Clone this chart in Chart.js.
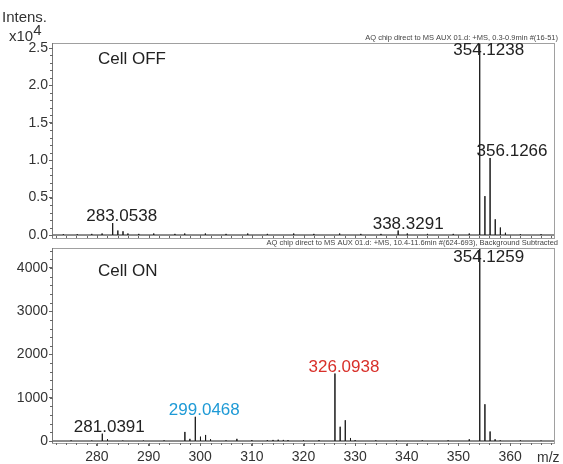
<!DOCTYPE html>
<html><head><meta charset="utf-8">
<script src="https://cdn.jsdelivr.net/npm/chart.js@4"></script>
<style>
html,body{margin:0;padding:0;background:#fff;overflow:hidden}
#wrap{position:relative;width:563px;height:464px}
canvas{position:absolute;left:0}
#c1{top:0}
#c2{top:240px}
</style></head><body>
<div id="wrap">
<canvas id="c1" width="563" height="240"></canvas>
<canvas id="c2" width="563" height="224"></canvas>
</div>
<script>
// ---- data ----
const mzOff = [273.5, 276.2, 279.0, 281.0, 283.05, 284.05, 285.05, 286.0, 288.1, 291.0, 295.1, 297.0, 301.0, 305.0, 309.2, 313.0, 318.1, 322.0, 327.0, 331.1, 335.0, 338.33, 340.1, 344.0, 349.0, 352.1, 354.12, 355.13, 356.13, 357.13, 358.12, 359.1, 362.0, 366.0];
const intOff = [0.01, 0.01, 0.015, 0.02, 0.16, 0.06, 0.05, 0.02, 0.015, 0.02, 0.015, 0.02, 0.02, 0.015, 0.02, 0.015, 0.02, 0.015, 0.02, 0.015, 0.015, 0.06, 0.02, 0.015, 0.015, 0.02, 2.57, 0.52, 1.03, 0.21, 0.1, 0.03, 0.01, 0.01];
const mzOn = [275.0, 279.0, 281.04, 282.05, 285.0, 289.0, 293.0, 297.03, 298.0, 299.05, 300.05, 301.04, 302.0, 305.0, 307.1, 310.0, 313.0, 314.1, 315.1, 316.1, 317.0, 320.0, 323.0, 326.09, 327.1, 328.09, 329.1, 330.0, 334.0, 338.0, 343.0, 348.0, 352.1, 354.13, 355.13, 356.13, 357.1, 358.1, 362.0, 366.0];
const intOn = [15, 10, 170, 40, 10, 10, 15, 210, 50, 560, 100, 140, 40, 15, 50, 20, 20, 25, 30, 25, 20, 15, 20, 1560, 330, 480, 70, 20, 15, 15, 15, 15, 40, 4460, 850, 220, 40, 15, 15, 10];

const offTicks = [0, 0.5, 1, 1.5, 2, 2.5];
const offTickLabels = ["0.0", "0.5", "1.0", "1.5", "2.0", "2.5"];
const onTicks = [0, 1000, 2000, 3000, 4000];
const onTickLabels = ["0", "1000", "2000", "3000", "4000"];
const mzTicks = [280, 290, 300, 310, 320, 330, 340, 350, 360];

const offLabelMz = [283.0538, 338.3291, 354.1238, 356.1266];
const onLabelMz = [281.0391, 299.0468, 326.0938, 354.1259];

const titleOff = "Cell OFF";
const titleOn = "Cell ON";
const headerOff = "AQ chip direct to MS AUX 01.d: +MS, 0.3-0.9min #(16-51)";
const headerOn = "AQ chip direct to MS AUX 01.d: +MS, 10.4-11.6min #(624-693), Background Subtracted";

// ---- styles ----
const X_MIN = 271.3, X_MAX = 368.7;
const FONT = '"Liberation Sans", Arial, sans-serif';
const offLabelStyle = [{dx: 9, color: '#222'}, {dx: 10, color: '#222'}, {dx: 9, color: '#222'}, {dx: 22, color: '#222'}];
const onLabelStyle = [{dx: 7, color: '#222'}, {dx: 9, color: '#1e9ad6'}, {dx: 9, color: '#d8302a'}, {dx: 9, color: '#222'}];

function sticks(mz, it) {
  const pts = [{x: X_MIN, y: 0}];
  mz.forEach((m, i) => { pts.push({x: m, y: 0}, {x: m, y: it[i]}, {x: m, y: 0}); });
  pts.push({x: X_MAX, y: 0});
  return pts;
}
function nearestInt(mz, it, v) {
  let bi = 0, bd = 1e9;
  mz.forEach((m, i) => { const d = Math.abs(m - v); if (d < bd) { bd = d; bi = i; } });
  return it[bi];
}

function makePlugin(cfg) {
  return {
    id: 'deco',
    afterDraw(chart) {
      const ctx = chart.ctx, a = chart.chartArea, xs = chart.scales.x, ys = chart.scales.y;
      ctx.save();
      ctx.strokeStyle = '#a0a0a0'; ctx.lineWidth = 1;
      ctx.strokeRect(a.left + 0.5, a.top + 0.5, a.right - a.left - 1, a.bottom - a.top);
      ctx.strokeStyle = '#777';
      ctx.beginPath(); ctx.moveTo(a.left + 0.5, a.top); ctx.lineTo(a.left + 0.5, a.bottom); ctx.stroke();
      ctx.strokeStyle = '#666';
      for (let v = cfg.yMinorStart; v <= ys.max + 1e-9; v += cfg.yMinor) {
        const y = Math.round(ys.getPixelForValue(v)) + 0.5;
        if (y < a.top || y > a.bottom) continue;
        ctx.beginPath(); ctx.moveTo(a.left - 2, y); ctx.lineTo(a.left + 1, y); ctx.stroke();
      }
      for (let v = 272; v <= 368; v += 2) {
        const x = Math.round(xs.getPixelForValue(v)) + 0.5;
        const len = (v % 10 === 0) ? 3 : 2;
        ctx.beginPath();
        if (cfg.bottomAxis) { ctx.moveTo(x, a.bottom); ctx.lineTo(x, a.bottom + len); }
        else { ctx.moveTo(x, a.bottom); ctx.lineTo(x, a.bottom - len); }
        ctx.stroke();
      }
      ctx.font = '17px ' + FONT;
      ctx.textAlign = 'center'; ctx.textBaseline = 'alphabetic';
      cfg.labels.forEach((m, i) => {
        const st = cfg.labelStyle[i];
        const inten = nearestInt(cfg.mz, cfg.it, m);
        const top = ys.getPixelForValue(Math.min(inten, ys.max));
        const base = Math.max(top - 2, a.top + cfg.labelTopMin);
        ctx.fillStyle = st.color;
        ctx.fillText(m.toFixed(4), xs.getPixelForValue(m) + st.dx, base);
      });
      ctx.fillStyle = '#222'; ctx.textAlign = 'left';
      ctx.fillText(cfg.title, 98, a.top + cfg.titleDy);
      ctx.font = '7.5px ' + FONT; ctx.textAlign = 'right'; ctx.fillStyle = '#444';
      ctx.fillText(cfg.header, 558, cfg.headerY);
      if (cfg.extra) cfg.extra(ctx, a);
      ctx.restore();
    }
  };
}

function makeChart(id, mz, it, opt) {
  return new Chart(document.getElementById(id), {
    type: 'scatter',
    data: { datasets: [{ data: sticks(mz, it), showLine: true, borderColor: '#1a1a1a', borderWidth: 1, pointRadius: 0, tension: 0 }] },
    options: {
      responsive: false, animation: false, devicePixelRatio: 1,
      layout: { padding: opt.padding },
      plugins: { legend: { display: false }, tooltip: { enabled: false } },
      scales: {
        x: {
          type: 'linear', min: X_MIN, max: X_MAX, display: opt.showX,
          afterBuildTicks: s => { s.ticks = mzTicks.map(v => ({value: v})); },
          afterFit: s => { if (opt.showX) s.height = 21; s.paddingLeft = 0; s.paddingRight = 0; },
          grid: { display: true, drawOnChartArea: false, drawTicks: true, tickLength: 3, color: '#666' },
          border: { display: false },
          ticks: { font: { size: 14, family: FONT }, color: '#333', padding: 3, maxRotation: 0, autoSkip: false }
        },
        y: {
          min: opt.yMin, max: opt.yMax,
          afterBuildTicks: s => { s.ticks = opt.ticks.map(v => ({value: v})); },
          afterFit: s => { s.width = 52; s.paddingTop = 0; s.paddingBottom = 0; },
          grid: { display: true, drawOnChartArea: false, drawTicks: true, tickLength: 3, color: '#666' },
          border: { display: false },
          ticks: { font: { size: 14, family: FONT }, color: '#333', padding: 1,
            callback: v => opt.tickLabels[opt.ticks.indexOf(v)] }
        }
      }
    },
    plugins: [makePlugin(opt.deco)]
  });
}

makeChart('c1', mzOff, intOff, {
  padding: {top: 43, right: 8, bottom: 2, left: 0}, showX: false,
  yMin: -0.04, yMax: 2.567, ticks: offTicks, tickLabels: offTickLabels,
  deco: { yMinor: 0.1, yMinorStart: 0, bottomAxis: false, labels: offLabelMz, labelStyle: offLabelStyle,
    mz: mzOff, it: intOff, labelTopMin: 12, title: titleOff, titleDy: 21, header: headerOff, headerY: 40,
    extra: (ctx, a) => {
      ctx.font = '15px ' + FONT; ctx.fillStyle = '#333'; ctx.textAlign = 'left';
      ctx.fillText('Intens.', 2, 22);
      ctx.fillText('x10', 9, 41);
      const w = ctx.measureText('x10').width;
      ctx.fillText('4', 9 + w, 35);
    } }
});

makeChart('c2', mzOn, intOn, {
  padding: {top: 8, right: 8, bottom: 0, left: 0}, showX: true,
  yMin: -46, yMax: 4462, ticks: onTicks, tickLabels: onTickLabels,
  deco: { yMinor: 200, yMinorStart: 0, bottomAxis: true, labels: onLabelMz, labelStyle: onLabelStyle,
    mz: mzOn, it: intOn, labelTopMin: 14, title: titleOn, titleDy: 28, header: headerOn, headerY: 5,
    extra: (ctx, a) => {
      ctx.font = '14px ' + FONT; ctx.fillStyle = '#333'; ctx.textAlign = 'left';
      ctx.fillText('m/z', 537, 222);
    } }
});
</script>
</body></html>
